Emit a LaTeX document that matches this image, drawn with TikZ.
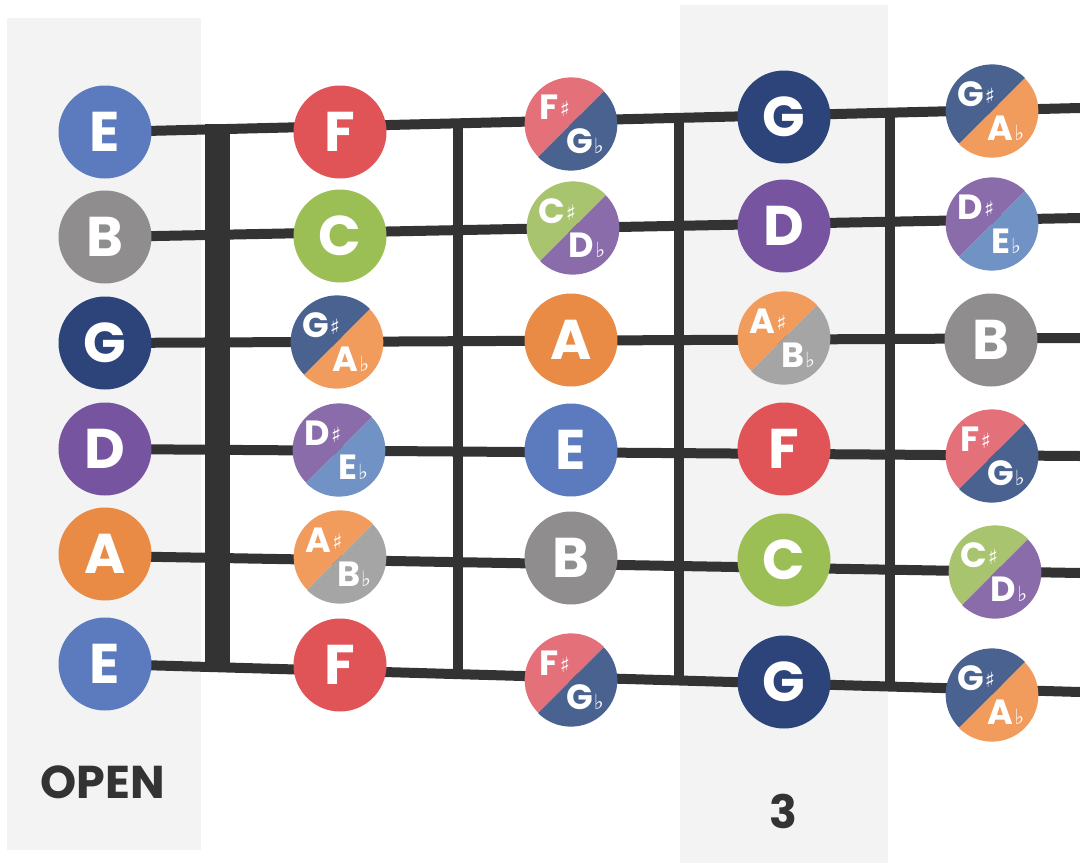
\documentclass[tikz,border=0pt]{standalone}
\usepackage{fontspec}
\setmainfont{Poppins}
\newfontfamily\symf{DejaVu Sans}
\usetikzlibrary{calc}
\definecolor{cE}{HTML}{5B7BBE}
\definecolor{cB}{HTML}{8F8D8E}
\definecolor{cG}{HTML}{2C4479}
\definecolor{cD}{HTML}{7654A0}
\definecolor{cA}{HTML}{E98B45}
\definecolor{cF}{HTML}{E05357}
\definecolor{cC}{HTML}{9BBE55}
\definecolor{sF}{HTML}{E4707A}
\definecolor{sG}{HTML}{4A6290}
\definecolor{sC}{HTML}{A8C46E}
\definecolor{sD}{HTML}{8A6CAB}
\definecolor{sE}{HTML}{7092C4}
\definecolor{sA}{HTML}{F19B5D}
\definecolor{sB}{HTML}{A5A5A5}
\definecolor{ink}{HTML}{333333}
\definecolor{panel}{HTML}{F3F3F3}
\newcommand\shp{{\symf\fontsize{21}{21}\selectfont\raisebox{3pt}{♯}}}
\newcommand\flt{{\symf\fontsize{21}{21}\selectfont ♭}}
\tikzset{
  note/.style={circle, minimum size=93pt, inner sep=0pt, text=white,
    font=\bfseries\fontsize{56}{56}\selectfont},
  halfnote/.style={circle, minimum size=93pt, inner sep=0pt},
  small/.style={text=white, inner sep=0pt, font=\bfseries\fontsize{35}{35}\selectfont},
  gstring/.style={draw=ink, line width=10pt},
  fretline/.style={draw=ink, line width=10pt},
  nutline/.style={draw=ink, line width=25pt},
  panelbox/.style={fill=panel},
  caption/.style={text=ink, inner sep=0pt, font=\bfseries\fontsize{46}{46}\selectfont}
}
% name, x, yimg, colour, letter
\newcommand\onenote[5]{\node[note, fill=#4] (#1) at (#2,-#3) {#5};}
% name, x, yimg, upper-left colour, lower-right colour, sharp letter, flat letter
\newcommand\twonote[7]{%
  \node[halfnote] (#1) at (#2,-#3) {};
  \fill[#4] (#1.45) arc[start angle=45, end angle=225, radius=46.5pt] -- cycle;
  \fill[#5] (#1.225) arc[start angle=225, end angle=405, radius=46.5pt] -- cycle;
  \node[small, anchor=base] (#1s) at ($(#1.center)+(-16,5)$) {#6\kern1pt\shp};
  \node[small, anchor=base] (#1f) at ($(#1.center)+(14,-29)$) {#7\kern1pt\flt};
}
\begin{document}
\begin{tikzpicture}[x=1pt, y=1pt]
\useasboundingbox (0,0) rectangle (1080,-863);
% panels
\path[panelbox] (7,-18) rectangle (201,-850);
\path[panelbox] (680,-5) rectangle (888,-863);
% string end points
\coordinate (s1a) at (105,-132); \coordinate (s1b) at (1080,-108);
\coordinate (s2a) at (105,-237); \coordinate (s2b) at (1080,-218);
\coordinate (s3a) at (105,-343); \coordinate (s3b) at (1080,-338);
\coordinate (s4a) at (105,-449); \coordinate (s4b) at (1080,-456);
\coordinate (s5a) at (105,-556); \coordinate (s5b) at (1080,-573);
\coordinate (s6a) at (105,-664); \coordinate (s6b) at (1080,-692);
% nut and frets
\coordinate (nt) at ($(s1a)!0.1154!(s1b)+(0,5)$);
\coordinate (nb) at ($(s6a)!0.1154!(s6b)+(0,-5)$);
\draw[nutline] (nt) -- (nb);
\coordinate (f1t) at ($(s1a)!0.3621!(s1b)$); \coordinate (f1b) at ($(s6a)!0.3621!(s6b)$);
\coordinate (f2t) at ($(s1a)!0.5887!(s1b)$); \coordinate (f2b) at ($(s6a)!0.5887!(s6b)$);
\coordinate (f3t) at ($(s1a)!0.8051!(s1b)$); \coordinate (f3b) at ($(s6a)!0.8051!(s6b)$);
\draw[fretline] (f1t) -- (f1b);
\draw[fretline] (f2t) -- (f2b);
\draw[fretline] (f3t) -- (f3b);
% strings
\foreach \s in {1,...,6} {\draw[gstring] (s\s a) -- (s\s b);}
% open strings
\onenote{o1}{105}{132}{cE}{E}
\onenote{o2}{105}{237}{cB}{B}
\onenote{o3}{105}{343}{cG}{G}
\onenote{o4}{105}{449}{cD}{D}
\onenote{o5}{105}{554}{cA}{A}
\onenote{o6}{105}{664}{cE}{E}
% fret 1
\onenote{a1}{340}{132}{cF}{F}
\onenote{a2}{340}{236}{cC}{C}
\twonote{a3}{337}{342}{sG}{sA}{G}{A}
\twonote{a4}{339}{450}{sD}{sE}{D}{E}
\twonote{a5}{340}{557}{sA}{sB}{A}{B}
\onenote{a6}{340}{665}{cF}{F}
% fret 2
\twonote{b1}{571}{124}{sF}{sG}{F}{G}
\twonote{b2}{573}{228}{sC}{sD}{C}{D}
\onenote{b3}{571}{340}{cA}{A}
\onenote{b4}{571}{450}{cE}{E}
\onenote{b5}{571}{558}{cB}{B}
\twonote{b6}{571}{680}{sF}{sG}{F}{G}
% fret 3
\onenote{c1}{784}{117}{cG}{G}
\onenote{c2}{784}{226}{cD}{D}
\twonote{c3}{784}{338}{sA}{sB}{A}{B}
\onenote{c4}{784}{449}{cF}{F}
\onenote{c5}{784}{560}{cC}{C}
\onenote{c6}{784}{682}{cG}{G}
% fret 4
\twonote{d1}{992}{111}{sG}{sA}{G}{A}
\twonote{d2}{992}{224}{sD}{sE}{D}{E}
\onenote{d3}{991}{340}{cB}{B}
\twonote{d4}{992}{456}{sF}{sG}{F}{G}
\twonote{d5}{995}{572}{sC}{sD}{C}{D}
\twonote{d6}{992}{695}{sG}{sA}{G}{A}
% captions
\node[caption, anchor=base] (open) at (103,-798) {OPEN};
\node[caption, anchor=base] (three) at (783,-828) {3};
\end{tikzpicture}
\end{document}
